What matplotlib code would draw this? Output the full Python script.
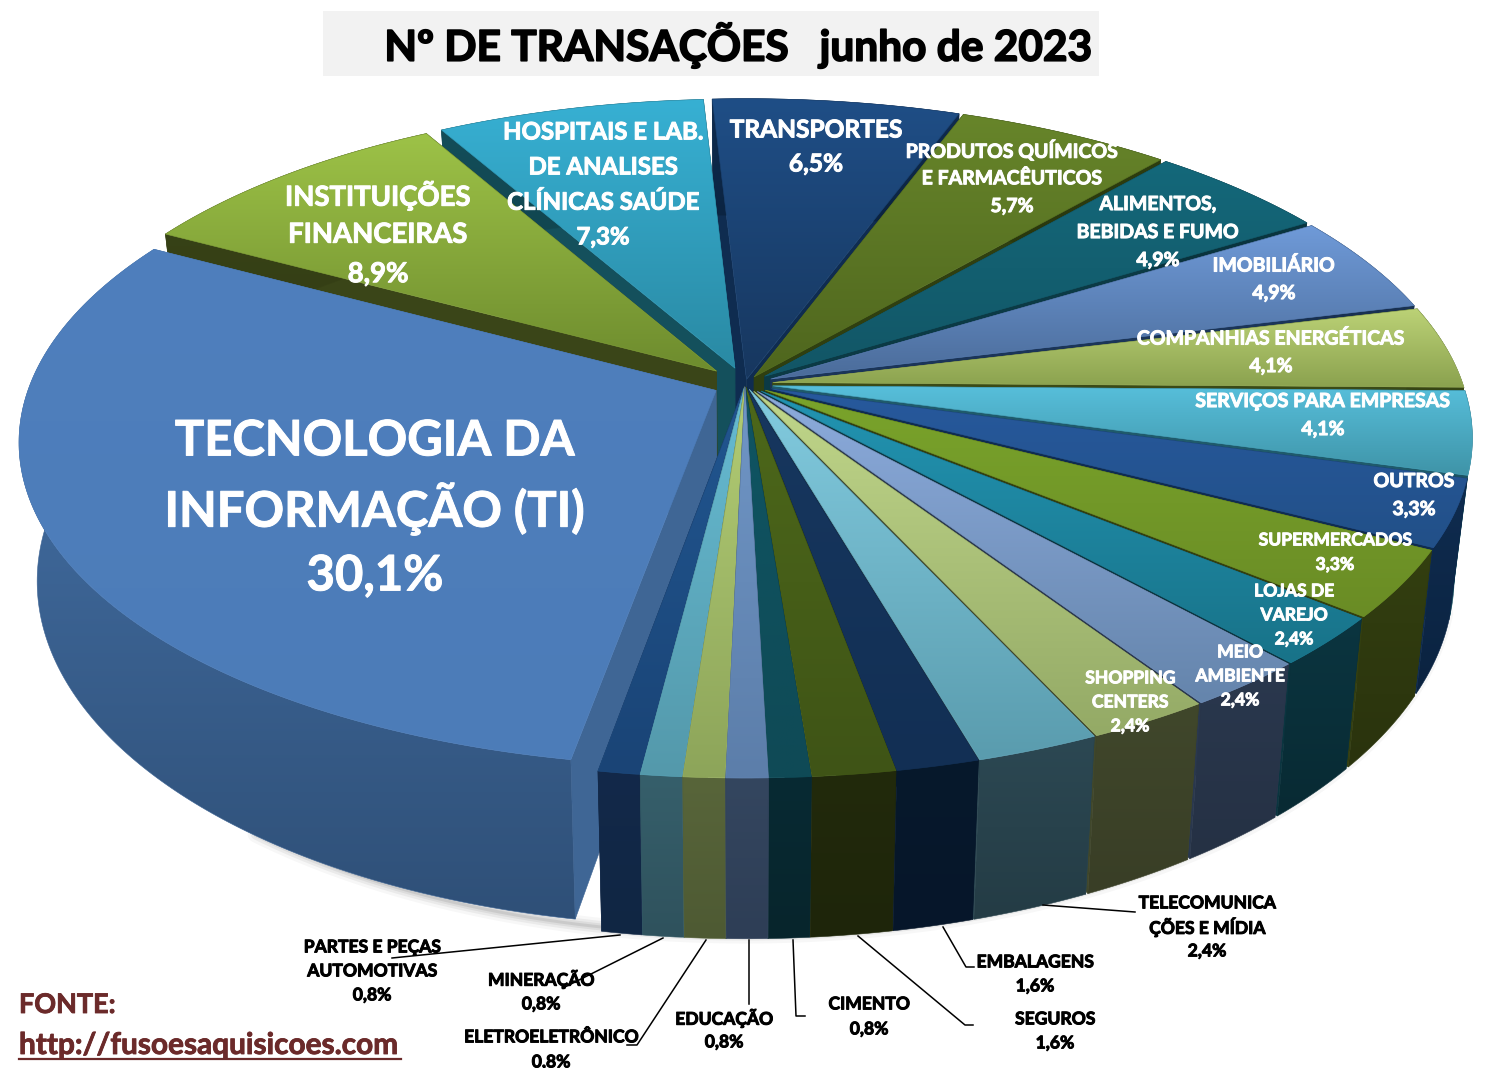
import numpy as np
import matplotlib
matplotlib.use("Agg")
import matplotlib.pyplot as plt
from matplotlib.colors import to_rgb
from matplotlib.patches import Polygon, Rectangle
import matplotlib.patheffects as pe

plt.rcParams['font.family'] = ['Lato', 'DejaVu Sans']

# slices, clockwise from the top
categories = ["TRANSPORTES", "PRODUTOS QUÍMICOS\nE FARMACÊUTICOS", "ALIMENTOS,\nBEBIDAS E FUMO",
              "IMOBILIÁRIO", "COMPANHIAS ENERGÉTICAS", "SERVIÇOS PARA EMPRESAS", "OUTROS",
              "SUPERMERCADOS", "LOJAS DE\nVAREJO", "MEIO\nAMBIENTE", "SHOPPING\nCENTERS",
              "TELECOMUNICA\nÇÕES E MÍDIA", "EMBALAGENS", "SEGUROS", "CIMENTO", "EDUCAÇÃO",
              "ELETROELETRÔNICO", "MINERAÇÃO", "PARTES E PEÇAS\nAUTOMOTIVAS",
              "TECNOLOGIA DA\nINFORMAÇÃO (TI)", "INSTITUIÇÕES\nFINANCEIRAS",
              "HOSPITAIS E LAB.\nDE ANALISES\nCLÍNICAS SAÚDE"]
values = [6.5, 5.7, 4.9, 4.9, 4.1, 4.1, 3.3, 3.3, 2.4, 2.4, 2.4, 2.4, 1.6, 1.6, 0.8, 0.8,
          0.8, 0.8, 0.8, 30.1, 8.9, 7.3]
explode = [10, 18, 26, 28, 28, 28, 28, 24, 22, 20, 18, 12, 8, 6, 6, 6, 6, 8, 10, 32, 40, 36]

top_light = ["#1f4e86", "#67852a", "#14687a", "#6f9ad8", "#bcd276", "#57bfdb", "#27599d",
             "#7aa42b", "#2294b2", "#8cabdc", "#c0d68a", "#82cbdf", "#17375f", "#4d681a",
             "#0f5563", "#7096c6", "#b2cc74", "#66bbd2", "#215690", "#4f7fbd", "#9dc247",
             "#37b0d3"]
top_dark = ["#17375f", "#4f661e", "#125666", "#4b6c9a", "#8ba24f", "#3f94a8", "#225088",
            "#6a8c25", "#187389", "#6585ac", "#94aa66", "#5a9cae", "#122f54", "#3f5416",
            "#0f4a56", "#5c7eaa", "#8da55a", "#5499ab", "#1a4476", "#4c7cb8", "#6e8c2e",
            "#2a8aa4"]
side_top = ["#0f2c50", "#2f3f10", "#0b3a45", "#1b3558", "#3a4a16", "#1f5a6b", "#0f2c50",
            "#333f10", "#0b3540", "#2a384e", "#40472b", "#2c4853", "#07192c", "#222a0c",
            "#082a33", "#34465f", "#58653a", "#365f6b", "#13294a", "#4876ae", "#3a4518",
            "#14505c"]
side_bottom = ["#0b2340", "#28360d", "#082e37", "#152b48", "#323f12", "#184a58", "#0b2340",
               "#2a330d", "#082a33", "#253144", "#393e26", "#243c45", "#06162a", "#1e250a",
               "#07252c", "#2e3e56", "#4e5a33", "#2f525d", "#102643", "#2f5078", "#333d14",
               "#11454f"]
wall_colors = list(side_top)
wall_colors[19] = "#3f6695"

pct_labels = ["6,5%", "5,7%", "4,9%", "4,9%", "4,1%", "4,1%", "3,3%", "3,3%", "2,4%", "2,4%",
              "2,4%", "2,4%", "1,6%", "1,6%", "0,8%", "0,8%", "0,8%", "0,8%", "0,8%", "30,1%",
              "8,9%", "7,3%"]

# label layout: centre x, first line y, line step, size in pixels, colour
label_pos = [(816, 128, 34, 24.5, "white"), (1012, 149, 28, 19.5, "white"), (1158, 203, 28, 19.5, "white"),
             (1274, 264, 28, 19.5, "white"), (1271, 337, 28, 19.5, "white"), (1323, 400, 28, 19.5, "white"),
             (1414, 480, 28, 19.5, "white"), (1335, 539, 24.5, 17.5, "white"), (1294, 590, 24, 17.5, "white"),
             (1240, 651, 24, 17.5, "white"), (1130, 677, 24, 17.5, "white"), (1207, 902, 24, 17.5, "black"),
             (1035, 961, 24, 17.5, "black"), (1055, 1018, 24, 17.5, "black"), (869, 1003, 25, 17.5, "black"),
             (724, 1017, 24, 17.5, "black"), (551, 1036, 25, 17.5, "black"), (541, 978, 25, 17.5, "black"),
             (372, 946, 24, 17.5, "black"), (375, 437, 67.5, 49, "white"), (378, 193, 39.5, 27.5, "white"),
             (603, 130, 35, 24, "white")]

# leader lines for the small slices outside the pie
leaders = [[(1043, 905), (1135, 912)], [(943, 927), (966, 967), (974, 967)],
           [(858, 936), (965, 1025), (973, 1025)], [(793, 940), (796, 1016), (805, 1016)],
           [(749, 940), (749, 1004)], [(706, 940), (637, 1045), (627, 1045)],
           [(663, 938), (565, 987), (562, 987)], [(620, 935), (392, 958)]]

# projection of the flat pie
CX, CY = 745, 384
R_OUT = 718
TILT = 0.461
PERSP = 0.16
DEPTH = 135
TAPER = 0.025  # walls lean in towards the centre going down
START = 93.2


def project(u, v, z=0.0):
    s = 1 / (1 + PERSP * np.asarray(v) / R_OUT)
    x = CX + np.asarray(u) * s * (1 - TAPER * z / DEPTH)
    return np.column_stack([x, CY - np.asarray(v) * TILT * s + z * s])


def grad_fill(ax, pts, c0, c1, zorder):
    # vertical gradient clipped to the polygon
    grad = np.linspace(0, 1, 64)[:, None, None]
    img = (1 - grad) * np.array(to_rgb(c0)) + grad * np.array(to_rgb(c1))
    x0, y0 = pts.min(axis=0)
    x1, y1 = pts.max(axis=0)
    im = ax.imshow(img, extent=(x0, x1, y1, y0), aspect='auto', interpolation='bilinear', zorder=zorder)
    clip = Polygon(pts, closed=True, transform=ax.transData)
    im.set_clip_path(clip)
    mid = tuple((np.array(to_rgb(c0)) + np.array(to_rgb(c1))) / 2)
    ax.add_patch(Polygon(pts, closed=True, fill=False, edgecolor=mid, lw=0.4, zorder=zorder))


fig = plt.figure(figsize=(15, 10.68), dpi=100)
ax = fig.add_axes([0, 0, 1, 1])

# slice angles from the values
total = sum(values)
ends = START - np.cumsum(values) / total * 360
starts = np.concatenate([[START], ends[:-1]])
mids = np.radians((starts + ends) / 2)

# soft shadow under the front of the pie
th = np.radians(np.linspace(232, 345, 100))
shadow = project((R_OUT - 6) * np.cos(th), (R_OUT - 6) * np.sin(th), DEPTH)
for w, a in zip([18, 12, 7, 3], [0.03, 0.05, 0.06, 0.08]):
    ax.plot(shadow[:, 0], shadow[:, 1], color="black", lw=w / 1.39, alpha=a, zorder=1, solid_capstyle='round')

order = np.argsort(-np.sin(mids))
z = 2
for i in order:
    d = explode[i]
    ox, oy = d * np.cos(mids[i]), d * np.sin(mids[i])
    r = R_OUT - d
    a = np.radians(np.linspace(starts[i], ends[i], max(6, int(values[i] * 6))))
    u = ox + r * np.cos(a)
    v = oy + r * np.sin(a)
    top_arc = project(u, v)
    low_arc = project(u, v, DEPTH)
    tip_top = project([ox], [oy])
    tip_low = project([ox], [oy], DEPTH)
    # radial walls
    for k in (0, -1):
        wall = np.vstack([tip_top, top_arc[k], low_arc[k], tip_low])
        ax.add_patch(Polygon(wall, closed=True, facecolor=wall_colors[i], edgecolor=wall_colors[i], lw=0.4, zorder=z))
    z += 1
    # outer wall
    outer = np.vstack([top_arc, low_arc[::-1]])
    grad_fill(ax, outer, side_top[i], side_bottom[i], z)
    z += 1
    # top face
    face = np.vstack([tip_top, top_arc])
    grad_fill(ax, face, top_light[i], top_dark[i], z)
    z += 1

for pts in leaders:
    p = np.array(pts)
    ax.plot(p[:, 0], p[:, 1], color="black", lw=1.1, zorder=z)
z += 1

# slice labels, one text per line
for name, pct, (x, y, step, size, col) in zip(categories, pct_labels, label_pos):
    lines = name.split("\n") + [pct]
    for n, line in enumerate(lines):
        t = ax.text(x, y + n * step + 0.08 * size, line, ha='center', va='center', fontsize=size / 1.389,
                    fontweight='bold', color=col, zorder=z)
        t.set_path_effects([pe.withStroke(linewidth=0.7, foreground=col)])

# title box
ax.add_patch(Rectangle((323, 11), 776, 65, facecolor="#f2f2f2", edgecolor="none", zorder=z))
t = ax.text(738, 45, "Nº DE TRANSAÇÕES   junho de 2023", ha='center', va='center', fontsize=42.4 / 1.389,
            fontweight='bold', color="black", zorder=z + 1)
t.set_path_effects([pe.withStroke(linewidth=1.2, foreground="black")])

# source
for y, txt, size in [(1005, "FONTE:", 27), (1045, "http://fusoesaquisicoes.com", 29.8)]:
    t = ax.text(19, y, txt, ha='left', va='center', fontsize=size / 1.389, fontweight='bold',
                color="#6b2a2a", zorder=z)
    t.set_path_effects([pe.withStroke(linewidth=0.6, foreground="#6b2a2a")])
ax.plot([19, 401], [1059, 1059], color="#6b2a2a", lw=1.6, zorder=z)

ax.set_xlim(0, 1500)
ax.set_ylim(1068, 0)
ax.axis('off')
fig.savefig("out.png", dpi=100, facecolor="white")
